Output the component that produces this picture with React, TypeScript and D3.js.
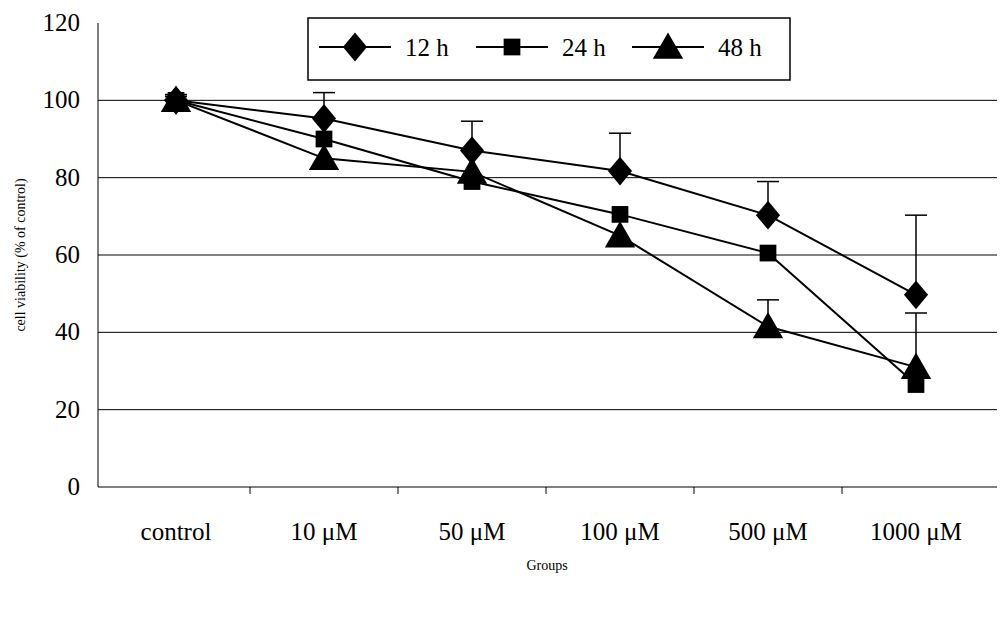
import * as d3 from 'd3'

const groups = ['control', '10 μM', '50 μM', '100 μM', '500 μM', '1000 μM']
const yTicks = [0, 20, 40, 60, 80, 100, 120]
const seriesNames = ['12 h', '24 h', '48 h']
const values12 = [100, 95.3, 87, 81.7, 70.3, 49.7]
const err12 = [101.5, 102, 94.6, 91.5, 79, 70.3]
const values24 = [100, 90, 79, 70.5, 60.5, 26.5]
const err24 = [101, 90, 79, 70.5, 60.5, 26.5]
const values48 = [100, 85, 81.5, 65, 41.5, 31]
const err48 = [101, 85, 81.5, 65, 48.4, 45]

const shapes = [d3.symbolDiamond, d3.symbolSquare, d3.symbolTriangle]
const sizes = [240, 280, 400]
const stretch = [1.45, 1, 1]

const App = () => {
	const width = 1004
	const height = 619
	const x = d3.scaleBand().domain(groups).range([102, 990])
	const y = d3.scaleLinear().domain([0, 120]).range([487, 23])
	const cx = (i: number) => (x(groups[i]) as number) + x.bandwidth() / 2
	const series = [
		{ vals: values12, errs: err12 },
		{ vals: values24, errs: err24 },
		{ vals: values48, errs: err48 },
	]
	const line = d3
		.line<number>()
		.x((_, i) => cx(i))
		.y((d) => y(d))
	const font = 'Liberation Serif, Times New Roman, serif'
	const legendX = [355, 512, 668]

	return (
		<svg width={width} height={height} style={{ position: 'absolute', left: 0, top: 0 }}>
			<rect width={width} height={height} fill="white" />
			{yTicks.map((t) => (
				<g key={t}>
					{t > 0 && t < 120 && (
						<line x1={98} x2={997} y1={y(t)} y2={y(t)} stroke="#000" strokeWidth={1} />
					)}
					<text x={80} y={y(t) + 8} textAnchor="end" fontFamily={font} fontSize={25}>
						{t}
					</text>
				</g>
			))}
			<line x1={98} x2={98} y1={23} y2={487} stroke="#000" />
			<line x1={98} x2={997} y1={487} y2={487} stroke="#000" />
			{groups.map((g, i) => (
				<g key={g}>
					{i > 0 && (
						<line
							x1={x(g) as number}
							x2={x(g) as number}
							y1={487}
							y2={494}
							stroke="#000"
						/>
					)}
					<text x={cx(i)} y={540} textAnchor="middle" fontFamily={font} fontSize={25}>
						{g}
					</text>
				</g>
			))}
			<text x={547} y={570} textAnchor="middle" fontFamily={font} fontSize={14}>
				Groups
			</text>
			<text
				transform={`translate(25,255) rotate(-90)`}
				textAnchor="middle"
				fontFamily={font}
				fontSize={14}
			>
				cell viability (% of control)
			</text>
			{series.map((s, k) => (
				<g key={k}>
					{s.vals.map((v, i) =>
						s.errs[i] > v + 0.5 ? (
							<g key={i}>
								<line x1={cx(i)} x2={cx(i)} y1={y(v)} y2={y(s.errs[i])} stroke="#000" strokeWidth={1.5} />
								<line x1={cx(i) - 11} x2={cx(i) + 11} y1={y(s.errs[i])} y2={y(s.errs[i])} stroke="#000" strokeWidth={1.5} />
							</g>
						) : null
					)}
					<path d={line(s.vals) as string} fill="none" stroke="#000" strokeWidth={2} />
					{s.vals.map((v, i) => (
						<path
							key={i}
							transform={`translate(${cx(i)},${y(v) + (k === 2 ? 3 : 0)}) scale(${stretch[k]},1)`}
							d={d3.symbol(shapes[k], sizes[k])() as string}
							fill="#000"
						/>
					))}
				</g>
			))}
			<rect x={308} y={18} width={482} height={62} fill="white" stroke="#000" strokeWidth={1.5} />
			{seriesNames.map((n, k) => (
				<g key={n}>
					<line x1={legendX[k] - 36} x2={legendX[k] + 36} y1={47} y2={47} stroke="#000" strokeWidth={2} />
					<path
						transform={`translate(${legendX[k]},${47 + (k === 2 ? 3 : 0)}) scale(${stretch[k]},1)`}
						d={d3.symbol(shapes[k], sizes[k])() as string}
						fill="#000"
					/>
					<text x={legendX[k] + 50} y={56} fontFamily={font} fontSize={25}>
						{n}
					</text>
				</g>
			))}
		</svg>
	)
}

export default App
